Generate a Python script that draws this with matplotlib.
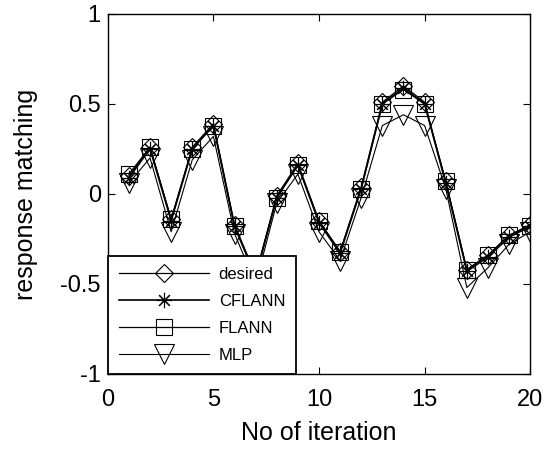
import matplotlib
matplotlib.use("Agg")
import matplotlib.pyplot as plt

plt.rcParams['font.family'] = ['Liberation Sans', 'DejaVu Sans']
plt.rcParams['axes.unicode_minus'] = False

iterations = list(range(1, 21))
desired = [0.10, 0.26, -0.14, 0.26, 0.39, -0.17, -0.45, -0.01, 0.17, -0.15,
           -0.32, 0.04, 0.51, 0.60, 0.51, 0.07, -0.42, -0.34, -0.23, -0.17]
cflann = [0.09, 0.25, -0.15, 0.25, 0.38, -0.18, -0.46, -0.02, 0.16, -0.16,
          -0.33, 0.03, 0.50, 0.59, 0.50, 0.06, -0.43, -0.35, -0.24, -0.18]
flann = [0.11, 0.26, -0.14, 0.25, 0.38, -0.18, -0.45, -0.02, 0.16, -0.15,
         -0.32, 0.03, 0.50, 0.58, 0.50, 0.07, -0.42, -0.34, -0.23, -0.18]
mlp = [0.06, 0.20, -0.21, 0.19, 0.32, -0.22, -0.50, -0.05, 0.11, -0.21,
       -0.37, -0.02, 0.38, 0.44, 0.38, 0.03, -0.52, -0.41, -0.28, -0.21]

fig = plt.figure(figsize=(5.5, 4.5), dpi=100)
ax = fig.add_axes([0.196, 0.169, 0.768, 0.80])

ax.plot(iterations, desired, color='black', lw=0.9, marker='D', ms=9.5,
        mfc='none', mec='black', mew=0.8, label='desired')
ax.plot(iterations, cflann, color='black', lw=1.2, marker=(8, 2, 0), ms=11,
        mfc='none', mec='black', mew=0.8, label='CFLANN')
ax.plot(iterations, flann, color='black', lw=0.9, marker='s', ms=12,
        mfc='none', mec='black', mew=0.8, label='FLANN')
ax.plot(iterations, mlp, color='black', lw=0.8, marker='v', ms=14,
        mfc='none', mec='black', mew=0.8, label='MLP')

ax.set_xlim(0, 20)
ax.set_ylim(-1, 1)
ax.set_xticks([0, 5, 10, 15, 20])
ax.set_yticks([-1, -0.5, 0, 0.5, 1])
ax.set_yticklabels(['-1', '-0.5', '0', '0.5', '1'])
ax.tick_params(direction='in', top=True, right=True, length=5, width=0.8,
               labelsize=17)
ax.tick_params(axis='x', pad=11)
ax.tick_params(axis='y', pad=5)
for s in ax.spines.values():
    s.set_linewidth(1.0)

ax.set_xlabel('No of iteration', fontsize=18, labelpad=7)
ax.set_ylabel('response matching', fontsize=18, labelpad=16)

leg = ax.legend(loc='lower left', borderaxespad=0, fontsize=12,
                handlelength=5.4, handletextpad=0.6, labelspacing=0.72,
                borderpad=0.65, fancybox=False, framealpha=1, edgecolor='black')
leg.get_frame().set_linewidth(1.3)

fig.savefig('out.png', dpi=100)
